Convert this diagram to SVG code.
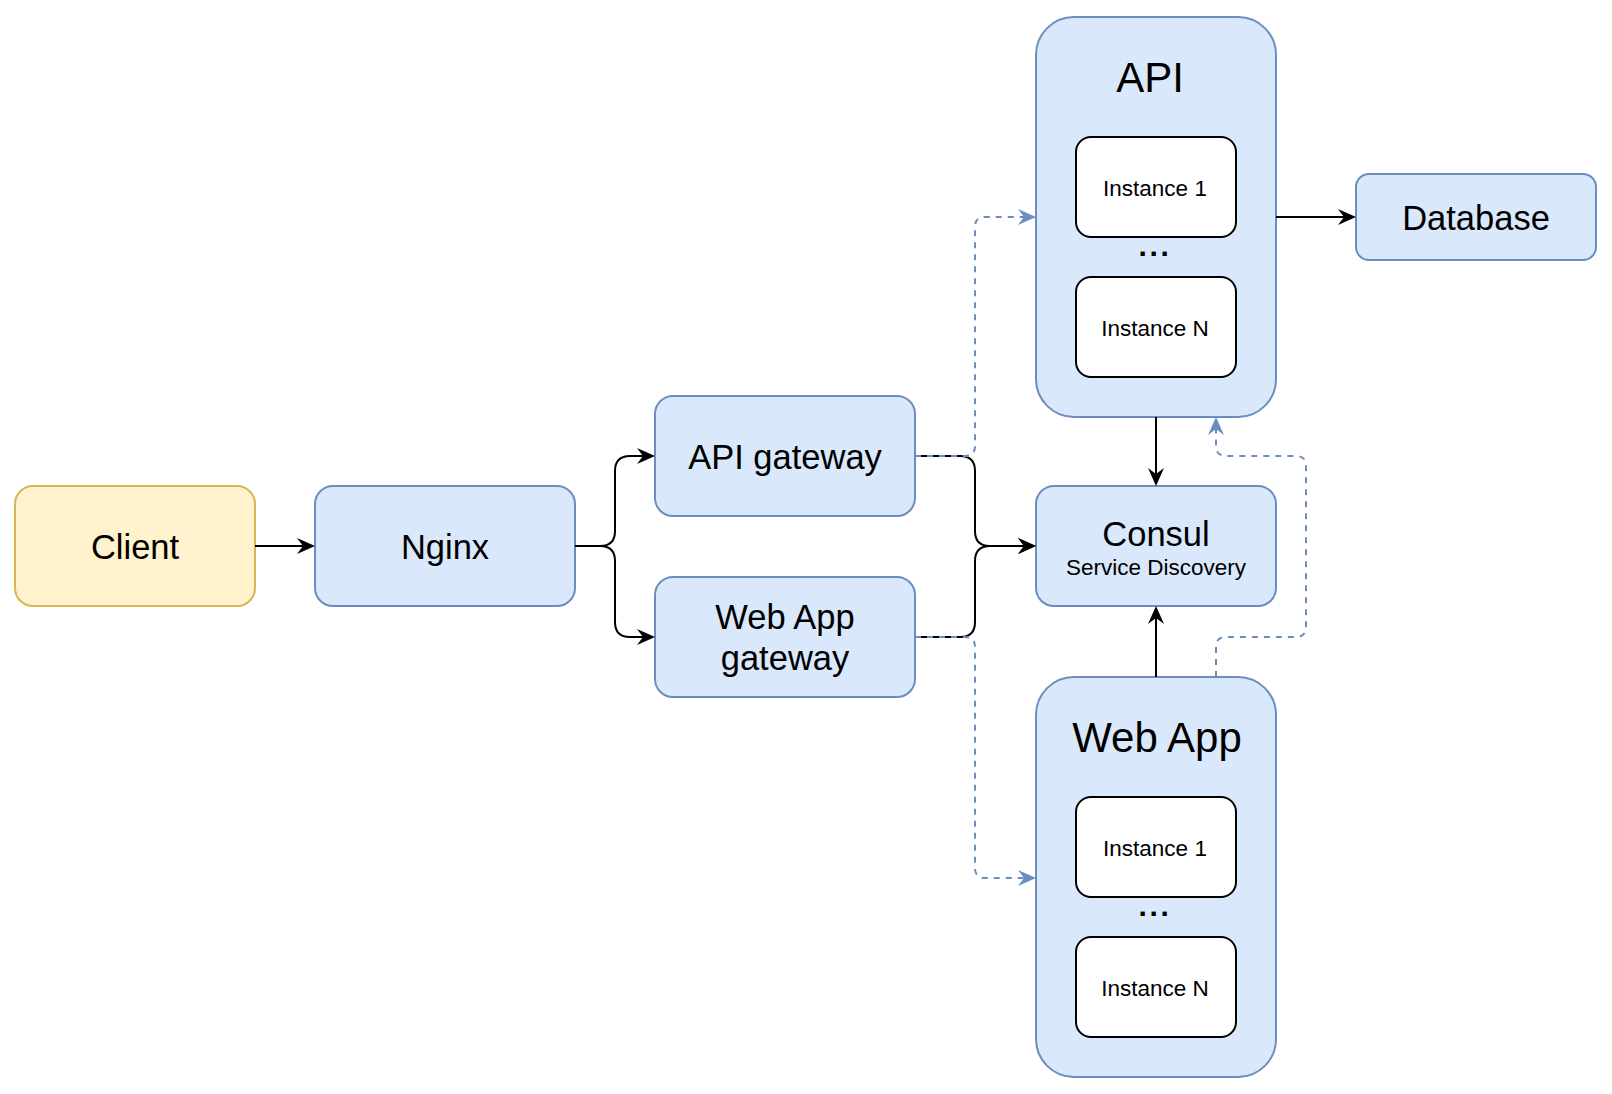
<svg xmlns="http://www.w3.org/2000/svg" width="1612" height="1094" viewBox="0 0 1612 1094">
<style>
.blue{fill:#dae8fc;stroke:#6c8ebf;stroke-width:2}
.yel{fill:#fff2cc;stroke:#d6b656;stroke-width:2}
.inst{fill:#ffffff;stroke:#000000;stroke-width:2}
text{font-family:"Liberation Sans",Arial,Helvetica,sans-serif;fill:#000;text-anchor:middle}
.big{font-size:34.5px}
.title{font-size:42px}
.small{font-size:22.5px}
.dots{font-size:30px;font-weight:bold;letter-spacing:2.6px}
.e{fill:none;stroke:#000;stroke-width:2}
.d{fill:none;stroke:#6c8ebf;stroke-width:2;stroke-dasharray:6 6}
</style>
<defs>
<marker id="ab" markerUnits="userSpaceOnUse" markerWidth="20" markerHeight="18" viewBox="0 -9 20 18" refX="8" refY="0" orient="auto"><path d="M18,0 L0,-8 L6,0 L0,8 Z" fill="#000"/></marker>
<marker id="au" markerUnits="userSpaceOnUse" markerWidth="20" markerHeight="18" viewBox="0 -9 20 18" refX="8" refY="0" orient="auto"><path d="M18,0 L0,-8 L6,0 L0,8 Z" fill="#6c8ebf"/></marker>
</defs>
<g id="client"><rect class="yel" x="15" y="486" width="240" height="120" rx="18"/><text class="big" x="135" y="559">Client</text></g>
<g id="nginx"><rect class="blue" x="315" y="486" width="260" height="120" rx="18"/><text class="big" x="445" y="559">Nginx</text></g>
<g id="api-gateway"><rect class="blue" x="655" y="396" width="260" height="120" rx="18"/><text class="big" x="785" y="469">API gateway</text></g>
<g id="webapp-gateway"><rect class="blue" x="655" y="577" width="260" height="120" rx="18"/><text class="big" x="785" y="629">Web App</text><text class="big" x="785" y="670">gateway</text></g>
<g id="consul"><rect class="blue" x="1036" y="486" width="240" height="120" rx="18"/><text class="big" x="1156" y="546">Consul</text><text class="small" x="1156" y="575">Service Discovery</text></g>
<g id="database"><rect class="blue" x="1356" y="174" width="240" height="86" rx="13"/><text class="big" x="1476" y="230">Database</text></g>
<g id="api"><rect class="blue" x="1036" y="17" width="240" height="400" rx="38"/><text class="title" x="1150" y="92">API</text>
<g id="api-instance-1"><rect class="inst" x="1076" y="137" width="160" height="100" rx="15"/><text class="small" x="1155" y="196">Instance 1</text></g>
<text class="dots" x="1155" y="256">...</text>
<g id="api-instance-n"><rect class="inst" x="1076" y="277" width="160" height="100" rx="15"/><text class="small" x="1155" y="336">Instance N</text></g></g>
<g id="webapp"><rect class="blue" x="1036" y="677" width="240" height="400" rx="38"/><text class="title" x="1157" y="752">Web App</text>
<g id="webapp-instance-1"><rect class="inst" x="1076" y="797" width="160" height="100" rx="15"/><text class="small" x="1155" y="856">Instance 1</text></g>
<text class="dots" x="1155" y="916">...</text>
<g id="webapp-instance-n"><rect class="inst" x="1076" y="937" width="160" height="100" rx="15"/><text class="small" x="1155" y="996">Instance N</text></g></g>
<g id="connectors">
<path class="e" marker-end="url(#ab)" d="M255,546 H305"/>
<path class="e" marker-end="url(#ab)" d="M575,546 H600 Q615,546 615,531 V471 Q615,456 630,456 H645"/>
<path class="e" marker-end="url(#ab)" d="M575,546 H600 Q615,546 615,561 V622 Q615,637 630,637 H645"/>
<path class="e" marker-end="url(#ab)" d="M915,456 H960 Q975,456 975,471 V531 Q975,546 990,546 H1026"/>
<path class="e" marker-end="url(#ab)" d="M915,637 H960 Q975,637 975,622 V561 Q975,546 990,546 H1026"/>
<path class="e" marker-end="url(#ab)" d="M1156,417 V476"/>
<path class="e" marker-end="url(#ab)" d="M1156,677 V616"/>
<path class="e" marker-end="url(#ab)" d="M1276,217 H1346"/>
<path class="d" marker-end="url(#au)" d="M915,456 H965 Q975,456 975,446 V227 Q975,217 985,217 H1026"/>
<path class="d" marker-end="url(#au)" d="M915,637 H965 Q975,637 975,647 V868 Q975,878 985,878 H1026"/>
<path class="d" marker-end="url(#au)" d="M1216,677 V647 Q1216,637 1226,637 H1296 Q1306,637 1306,627 V466 Q1306,456 1296,456 H1226 Q1216,456 1216,446 V427"/>
</g>
</svg>
